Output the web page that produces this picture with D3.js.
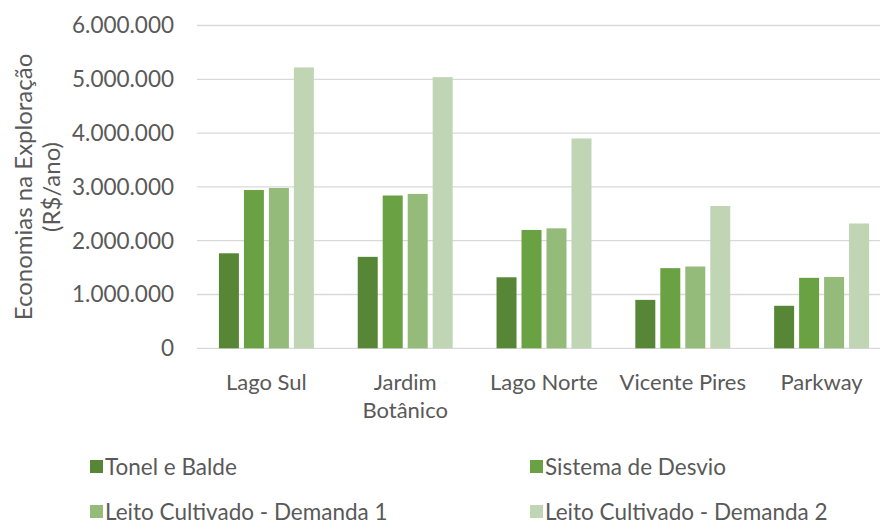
<!DOCTYPE html>
<html>
<head>
<meta charset="utf-8">
<script src="https://cdn.jsdelivr.net/npm/d3@7"></script>
<style>
  body { margin: 0; background: #fff; }
  svg text { font-family: Lato, "Open Sans", sans-serif; fill: #595959; }
</style>
</head>
<body>
<div id="chart"></div>
<script>
// Chart Data
const categories = ["Lago Sul", "Jardim Botânico", "Lago Norte", "Vicente Pires", "Parkway"];
const series = ["Tonel e Balde", "Sistema de Desvio", "Leito Cultivado - Demanda 1", "Leito Cultivado - Demanda 2"];
const tonelBalde = [1766000, 1700000, 1320000, 900000, 790000];
const sistemaDesvio = [2942000, 2840000, 2200000, 1490000, 1310000];
const leitoDemanda1 = [2980000, 2870000, 2230000, 1520000, 1325000];
const leitoDemanda2 = [5220000, 5040000, 3900000, 2645000, 2320000];
const yTicks = [0, 1000000, 2000000, 3000000, 4000000, 5000000, 6000000];
const colors = ["#578637", "#6aa243", "#94bb7a", "#bfd5b3"];

const values = [tonelBalde, sistemaDesvio, leitoDemanda1, leitoDemanda2];

// Dimensions
let w = 880, h = 524;
let svg = d3.select("#chart").append("svg").attr("width", w).attr("height", h);

// Scales
let x0 = d3.scaleBand().domain(categories).range([197, 891]).paddingInner(0.28).paddingOuter(0.14);
let x1 = d3.scaleBand().domain(series).range([0, x0.bandwidth()]).paddingInner(0.2).paddingOuter(0.1);
let y = d3.scaleLinear().domain([0, 6000000]).range([348.3, 25.5]);

// Number Format With Dots
let fmt = (d) => d3.format(",")(d).replace(/,/g, ".");

// Gridlines
svg.append("g").selectAll("line").data(yTicks).enter().append("line")
  .attr("x1", 197).attr("x2", w)
  .attr("y1", (d) => y(d)).attr("y2", (d) => y(d))
  .attr("stroke", "#d9d9d9").attr("stroke-width", 1.3);

// Y Axis Labels
svg.append("g").selectAll("text").data(yTicks).enter().append("text")
  .attr("x", 174).attr("y", (d) => y(d)).attr("dy", "0.35em")
  .attr("text-anchor", "end").style("font-size", "22.5px")
  .text((d) => fmt(d));

// Bars
let groups = svg.append("g").selectAll("g").data(categories).enter().append("g")
  .attr("transform", (d) => "translate(" + x0(d) + ",0)");
groups.selectAll("rect").data((d, i) => series.map((s, j) => ({ s: s, v: values[j][i], c: colors[j] })))
  .enter().append("rect")
  .attr("x", (d) => x1(d.s)).attr("width", x1.bandwidth())
  .attr("y", (d) => y(d.v)).attr("height", (d) => y(0) - y(d.v))
  .attr("fill", (d) => d.c);

// Category Labels (Wrapped)
let catText = svg.append("g").selectAll("text").data(categories).enter().append("text")
  .attr("x", (d) => x0(d) + x0.bandwidth() / 2).attr("y", 390)
  .attr("text-anchor", "middle").style("font-size", "22px");
catText.each(function (d) {
  let lines = d == "Jardim Botânico" ? ["Jardim", "Botânico"] : [d];
  let t = d3.select(this);
  lines.forEach((l, k) => {
    t.append("tspan").attr("x", x0(d) + x0.bandwidth() / 2).attr("dy", k == 0 ? 0 : 28).text(l);
  });
});

// Y Axis Title
let title = svg.append("text").attr("transform", "translate(32,187) rotate(-90)")
  .attr("text-anchor", "middle").style("font-size", "24px");
title.append("tspan").attr("x", 0).attr("dy", 0).text("Economias na Exploração");
title.append("tspan").attr("x", 0).attr("dy", 28).text("(R$/ano)");

// Legend
let legendPos = [[90, 467], [530, 467], [90, 512], [530, 512]];
let legend = svg.append("g").selectAll("g").data(series).enter().append("g")
  .attr("transform", (d, i) => "translate(" + legendPos[i][0] + "," + legendPos[i][1] + ")");
legend.append("rect").attr("x", 0).attr("y", -7).attr("width", 13).attr("height", 13)
  .attr("fill", (d, i) => colors[i]);
legend.append("text").attr("x", 15).attr("y", 0).attr("dy", "0.35em")
  .style("font-size", "22.5px").text((d) => d);
</script>
</body>
</html>
